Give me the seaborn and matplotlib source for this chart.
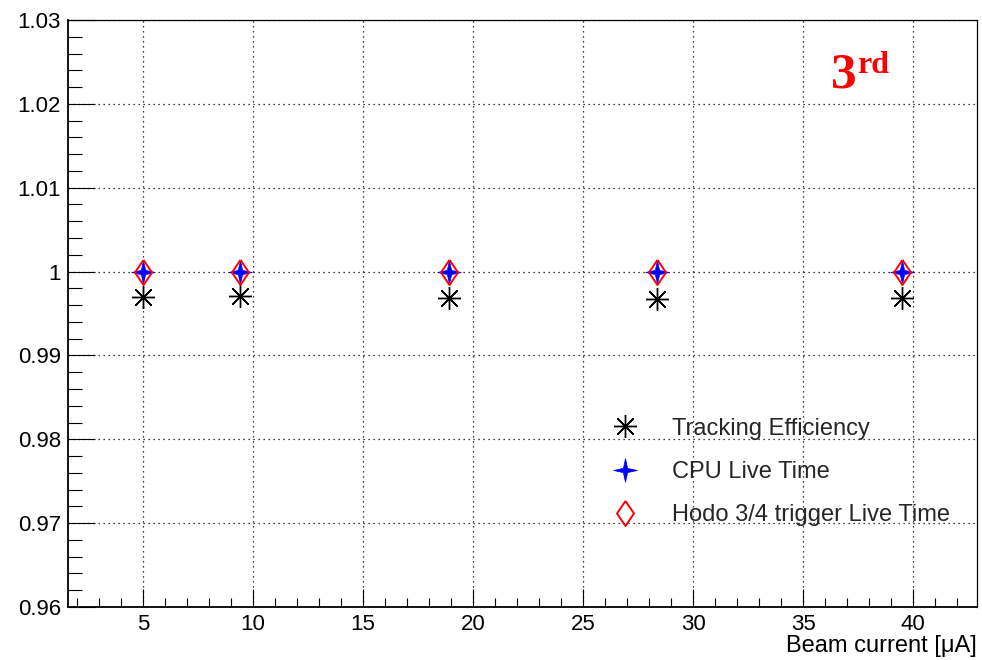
import matplotlib
matplotlib.use("Agg")
import matplotlib.pyplot as plt
import seaborn as sns
import numpy as np
import pandas as pd
from matplotlib.ticker import MultipleLocator, FuncFormatter

# ---- data ----
beam_current = [5.0, 9.42, 18.9, 28.35, 39.5]
tracking_eff = [0.99692, 0.99713, 0.99680, 0.99673, 0.99685]
cpu_live = [0.99998, 0.99998, 0.99998, 0.99998, 0.99996]
hodo_live = [1.00000, 1.00000, 1.00000, 1.00000, 1.00000]
series_labels = ["Tracking Efficiency", "CPU Live Time", "Hodo 3/4 trigger Live Time"]
x_label = "Beam current [\u03bcA]"

sns.set_theme(style="white")
plt.rcParams['font.family'] = ['Liberation Sans', 'DejaVu Sans']

fig = plt.figure(figsize=(9.82, 6.60), dpi=100)
ax = fig.add_axes([68/982, 1-607/660, (977-68)/982, (607-20)/660])

df = pd.DataFrame({"x": beam_current, "trk": tracking_eff, "cpu": cpu_live, "hodo": hodo_live})

star4 = [(0, 1), (0.18, 0.18), (1, 0), (0.18, -0.18), (0, -1), (-0.18, -0.18), (-1, 0), (-0.18, 0.18), (0, 1)]
diamond = [(0, 1), (0.68, 0), (0, -1), (-0.68, 0), (0, 1)]

sns.lineplot(data=df, x="x", y="trk", ax=ax, linestyle="", marker=(8, 2, 0),
             markersize=16.5, color="black", markeredgecolor="black", markeredgewidth=1.0,
             label=series_labels[0], sort=False, errorbar=None)
sns.lineplot(data=df, x="x", y="cpu", ax=ax, linestyle="", marker=star4,
             markersize=17, color="blue", markerfacecolor="blue", markeredgecolor="blue",
             markeredgewidth=0.5, label=series_labels[1], sort=False, errorbar=None)
sns.lineplot(data=df, x="x", y="hodo", ax=ax, linestyle="", marker=diamond,
             markersize=18, color="red", markerfacecolor="none", markeredgecolor="red",
             markeredgewidth=1.4, label=series_labels[2], sort=False, errorbar=None)

ax.set_xlim(1.59, 42.9)
ax.set_ylim(0.96, 1.03)
ax.xaxis.set_major_locator(MultipleLocator(5))
ax.xaxis.set_minor_locator(MultipleLocator(1))
ax.yaxis.set_major_locator(MultipleLocator(0.01))
ax.yaxis.set_minor_locator(MultipleLocator(0.002))
ax.yaxis.set_major_formatter(FuncFormatter(lambda v, p: f"{round(v, 4):g}"))

ax.grid(True, which="major", color="black", linestyle=(0, (1, 3)), linewidth=0.9)
ax.set_axisbelow(True)

ax.tick_params(axis="both", which="both", direction="in", top=False, right=False,
               labelsize=16, color="black", labelcolor="black", width=0.8)
ax.tick_params(axis="x", which="major", length=12.7, pad=5)
ax.tick_params(axis="x", which="minor", length=6.3)
ax.tick_params(axis="y", which="major", length=19.6, pad=5)
ax.tick_params(axis="y", which="minor", length=9.8)
ax.tick_params(axis="x", which="both", bottom=True)
ax.tick_params(axis="y", which="both", left=True)

for s in ["left", "bottom"]:
    ax.spines[s].set_color("black")
    ax.spines[s].set_linewidth(1.3)
for s in ["top", "right"]:
    ax.spines[s].set_color("black")
    ax.spines[s].set_linewidth(0.9)

ax.set_ylabel("")
ax.set_xlabel(x_label, fontsize=17, loc="right", labelpad=0, color="black")

leg = ax.legend(loc="center left", bbox_to_anchor=(0.587, 0.23), frameon=False,
                fontsize=17, handlelength=2.0, handletextpad=1.0, borderpad=0,
                borderaxespad=0, labelspacing=0.9)

fig.text(831/982, 1-87/660, "3", color="red", fontsize=37, fontweight="bold",
         family="Liberation Serif", ha="left", va="baseline")
fig.text(857/982, 1-73/660, "rd", color="red", fontsize=23, fontweight="bold",
         family="Liberation Serif", ha="left", va="baseline")

fig.savefig("out.png", dpi=100)
